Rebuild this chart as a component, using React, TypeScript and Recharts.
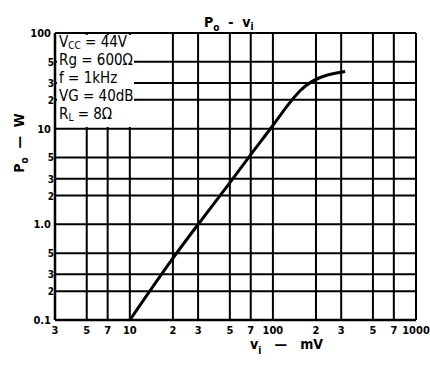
import React from "react";
import { LineChart, Line, XAxis, YAxis, CartesianGrid } from "recharts";

// input voltage (mV) vs output power (W)
const vi = [10, 20, 30, 50, 70, 100, 125, 155, 182, 240, 320];
const po = [0.1, 0.45, 1.0, 2.7, 5.4, 10.7, 17.3, 25.3, 31, 37, 39.6];

const xTicks = [3, 5, 7, 10, 20, 30, 50, 70, 100, 200, 300, 500, 700, 1000];
const xLabels = ["3", "5", "7", "10", "2", "3", "5", "7", "100", "2", "3", "5", "7", "1000"];
const yTicks = [0.1, 0.2, 0.3, 0.5, 1, 2, 3, 5, 10, 20, 30, 50, 100];
const yLabels = ["0.1", "2", "3", "5", "1.0", "2", "3", "5", "10", "2", "3", "5", "100"];

const notes = [
  ["V", "CC", " = 44V"],
  ["Rg", "", " = 600Ω"],
  ["f", "", " = 1kHz"],
  ["VG", "", " = 40dB"],
  ["R", "L", " = 8Ω"],
];

const data = vi.map((v, i) => ({ vi: v, po: po[i] }));

const FONT = "'DejaVu Sans Condensed', 'DejaVu Sans', sans-serif";
const SP = "\u00a0";

const XTick = (props: any) => {
  const { x, y, payload } = props;
  const i = xTicks.indexOf(payload.value);
  return (
    <text x={x} y={y} dy={14} textAnchor="middle" fontFamily={FONT} fontWeight="bold" fontSize={11} fill="#000">
      {xLabels[i]}
    </text>
  );
};

const YTick = (props: any) => {
  const { x, y, payload } = props;
  const i = yTicks.indexOf(payload.value);
  const major = [0.1, 1, 10, 100].includes(payload.value);
  return (
    <text x={x - (major ? 4 : 1)} y={y} dy={4} textAnchor="end" fontFamily={FONT} fontWeight="bold" fontSize={major ? 11 : 10} fill="#000">
      {yLabels[i]}
    </text>
  );
};

export default function App() {
  return (
    <div style={{ position: "absolute", left: 0, top: 0, width: 430, height: 365, background: "#fff" }}>
      <LineChart width={430} height={365} data={data} margin={{ top: 33, right: 14, bottom: 15, left: 10 }}>
        <CartesianGrid stroke="#000" strokeWidth={2} />
        <rect x={57} y={35} width={77} height={92} fill="#fff" />
        <XAxis
          dataKey="vi"
          type="number"
          scale="log"
          domain={[3, 1000]}
          ticks={xTicks}
          interval={0}
          allowDataOverflow
          height={30}
          tickSize={0}
          tickMargin={0}
          axisLine={{ stroke: "#000", strokeWidth: 2.5 }}
          tick={<XTick />}
        />
        <YAxis
          type="number"
          scale="log"
          domain={[0.1, 100]}
          ticks={yTicks}
          interval={0}
          allowDataOverflow
          width={45}
          tickSize={0}
          tickMargin={0}
          axisLine={{ stroke: "#000", strokeWidth: 2.5 }}
          tick={<YTick />}
        />
        <Line
          dataKey="po"
          type="basis"
          stroke="#000"
          strokeWidth={3}
          dot={false}
          isAnimationActive={false}
        />
        {notes.map((n, i) => (
          <text key={i} x={59} y={47 + i * 18} fontFamily={FONT} fontSize={15} fill="#000">
            {n[0]}
            {n[1] ? <tspan dy={2} fontSize={10}>{n[1]}</tspan> : null}
            <tspan dy={n[1] ? -2 : 0}>{n[2]}</tspan>
          </text>
        ))}
        <text x={204} y={27} fontFamily={FONT} fontWeight="bold" fontSize={14} fill="#000">
          P<tspan dy={4} fontSize={10}>o</tspan>
          <tspan dy={-4}>{`${SP}${SP}-${SP}${SP}v`}</tspan>
          <tspan dy={3} fontSize={10}>i</tspan>
        </text>
        <text x={0} y={0} transform="translate(24,143) rotate(-90)" textAnchor="middle" fontFamily={FONT} fontWeight="bold" fontSize={14} fill="#000">
          P<tspan dy={4} fontSize={10}>o</tspan>
          <tspan dy={-4}>{`${SP}${SP}—${SP}${SP}W`}</tspan>
        </text>
        <text x={250} y={349} fontFamily={FONT} fontWeight="bold" fontSize={14} fill="#000">
          v<tspan dy={5} fontSize={10}>i</tspan>
          <tspan dy={-5}>{`${SP}${SP}${SP}—${SP}${SP}${SP}mV`}</tspan>
        </text>
      </LineChart>
    </div>
  );
}
